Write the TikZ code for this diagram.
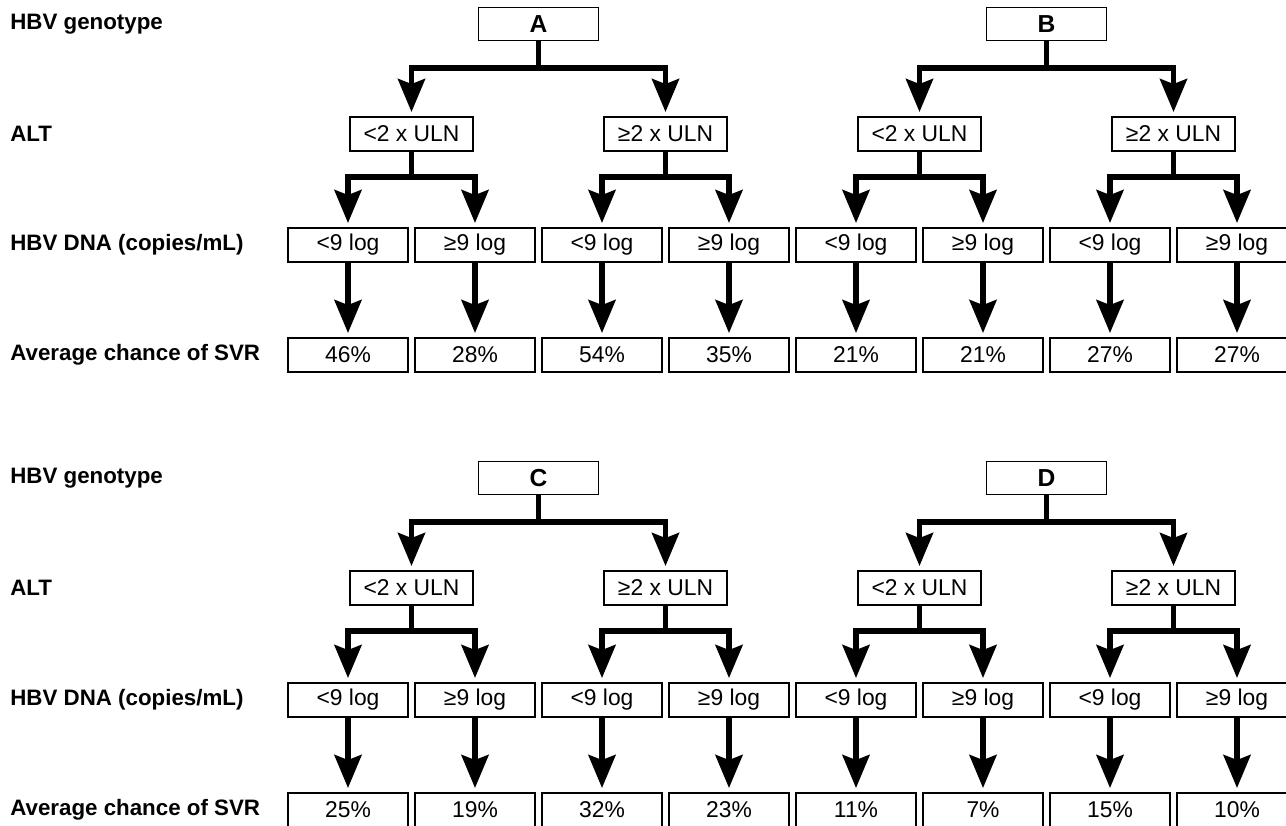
\documentclass[tikz,border=0pt]{standalone}
\usepackage{fontspec}
\setmainfont{Liberation Sans}
\usetikzlibrary{arrows.meta}

\begin{document}
\begin{tikzpicture}[
  font=\fontsize{13}{15}\selectfont,
  cell/.style={draw,line width=1.1pt,fill=white,minimum width=2.4cm,minimum height=0.68cm,inner sep=0pt},
  altcell/.style={cell,minimum width=2.46cm},
  gencell/.style={cell,minimum height=0.66cm,font=\fontsize{14}{16}\selectfont\bfseries},
  rowlabel/.style={anchor=west,inner sep=0pt,font=\fontsize{12.7}{15}\selectfont\bfseries},
  branch/.style={line width=3.1pt,-{Stealth[length=0.66cm,width=0.54cm,inset=0.1cm]},shorten >=0.08cm}
]
  \useasboundingbox (0,0) rectangle (25.72,16.52);
  \clip (0,0) rectangle (25.72,16.52);

  % row labels, upper half
  \node[rowlabel] (lgen1) at (0.2,16.04) {HBV genotype};
  \node[rowlabel] (lalt1) at (0.2,13.84) {ALT};
  \node[rowlabel] (ldna1) at (0.2,11.62) {HBV DNA (copies/mL)};
  \node[rowlabel] (lsvr1) at (0.2,9.42) {Average chance of SVR};
  % row labels, lower half
  \node[rowlabel] (lgen2) at (0.2,6.96) {HBV genotype};
  \node[rowlabel] (lalt2) at (0.2,4.76) {ALT};
  \node[rowlabel] (ldna2) at (0.2,2.52) {HBV DNA (copies/mL)};
  \node[rowlabel] (lsvr2) at (0.2,0.32) {Average chance of SVR};

  % genotype A
  \node[gencell] (gA) at (10.77,16.04) {A};
  \node[altcell] (aA1) at (8.23,13.84) {<2 x ULN};
  \node[altcell] (aA2) at (13.31,13.84) {≥2 x ULN};
  \node[cell] (dA1) at (6.96,11.62) {<9 log};
  \node[cell] (dA2) at (9.50,11.62) {≥9 log};
  \node[cell] (dA3) at (12.04,11.62) {<9 log};
  \node[cell] (dA4) at (14.58,11.62) {≥9 log};
  \node[cell] (sA1) at (6.96,9.42) {46\%};
  \node[cell] (sA2) at (9.50,9.42) {28\%};
  \node[cell] (sA3) at (12.04,9.42) {54\%};
  \node[cell] (sA4) at (14.58,9.42) {35\%};
  % genotype B
  \node[gencell] (gB) at (20.93,16.04) {B};
  \node[altcell] (aB1) at (18.39,13.84) {<2 x ULN};
  \node[altcell] (aB2) at (23.47,13.84) {≥2 x ULN};
  \node[cell] (dB1) at (17.12,11.62) {<9 log};
  \node[cell] (dB2) at (19.66,11.62) {≥9 log};
  \node[cell] (dB3) at (22.20,11.62) {<9 log};
  \node[cell] (dB4) at (24.74,11.62) {≥9 log};
  \node[cell] (sB1) at (17.12,9.42) {21\%};
  \node[cell] (sB2) at (19.66,9.42) {21\%};
  \node[cell] (sB3) at (22.20,9.42) {27\%};
  \node[cell] (sB4) at (24.74,9.42) {27\%};
  % genotype C
  \node[gencell] (gC) at (10.77,6.96) {C};
  \node[altcell] (aC1) at (8.23,4.76) {<2 x ULN};
  \node[altcell] (aC2) at (13.31,4.76) {≥2 x ULN};
  \node[cell] (dC1) at (6.96,2.52) {<9 log};
  \node[cell] (dC2) at (9.50,2.52) {≥9 log};
  \node[cell] (dC3) at (12.04,2.52) {<9 log};
  \node[cell] (dC4) at (14.58,2.52) {≥9 log};
  \node[cell] (sC1) at (6.96,0.32) {25\%};
  \node[cell] (sC2) at (9.50,0.32) {19\%};
  \node[cell] (sC3) at (12.04,0.32) {32\%};
  \node[cell] (sC4) at (14.58,0.32) {23\%};
  % genotype D
  \node[gencell] (gD) at (20.93,6.96) {D};
  \node[altcell] (aD1) at (18.39,4.76) {<2 x ULN};
  \node[altcell] (aD2) at (23.47,4.76) {≥2 x ULN};
  \node[cell] (dD1) at (17.12,2.52) {<9 log};
  \node[cell] (dD2) at (19.66,2.52) {≥9 log};
  \node[cell] (dD3) at (22.20,2.52) {<9 log};
  \node[cell] (dD4) at (24.74,2.52) {≥9 log};
  \node[cell] (sD1) at (17.12,0.32) {11\%};
  \node[cell] (sD2) at (19.66,0.32) {7\%};
  \node[cell] (sD3) at (22.20,0.32) {15\%};
  \node[cell] (sD4) at (24.74,0.32) {10\%};

  % genotype to ALT
  \draw[branch] (gA.south) -- ++(0,-0.53) -| (aA1.north);
  \draw[branch] (gA.south) -- ++(0,-0.53) -| (aA2.north);
  \draw[branch] (gB.south) -- ++(0,-0.53) -| (aB1.north);
  \draw[branch] (gB.south) -- ++(0,-0.53) -| (aB2.north);
  \draw[branch] (gC.south) -- ++(0,-0.53) -| (aC1.north);
  \draw[branch] (gC.south) -- ++(0,-0.53) -| (aC2.north);
  \draw[branch] (gD.south) -- ++(0,-0.53) -| (aD1.north);
  \draw[branch] (gD.south) -- ++(0,-0.53) -| (aD2.north);
  % ALT to HBV DNA
  \draw[branch] (aA1.south) -- ++(0,-0.5) -| (dA1.north);
  \draw[branch] (aA1.south) -- ++(0,-0.5) -| (dA2.north);
  \draw[branch] (aA2.south) -- ++(0,-0.5) -| (dA3.north);
  \draw[branch] (aA2.south) -- ++(0,-0.5) -| (dA4.north);
  \draw[branch] (aB1.south) -- ++(0,-0.5) -| (dB1.north);
  \draw[branch] (aB1.south) -- ++(0,-0.5) -| (dB2.north);
  \draw[branch] (aB2.south) -- ++(0,-0.5) -| (dB3.north);
  \draw[branch] (aB2.south) -- ++(0,-0.5) -| (dB4.north);
  \draw[branch] (aC1.south) -- ++(0,-0.5) -| (dC1.north);
  \draw[branch] (aC1.south) -- ++(0,-0.5) -| (dC2.north);
  \draw[branch] (aC2.south) -- ++(0,-0.5) -| (dC3.north);
  \draw[branch] (aC2.south) -- ++(0,-0.5) -| (dC4.north);
  \draw[branch] (aD1.south) -- ++(0,-0.5) -| (dD1.north);
  \draw[branch] (aD1.south) -- ++(0,-0.5) -| (dD2.north);
  \draw[branch] (aD2.south) -- ++(0,-0.5) -| (dD3.north);
  \draw[branch] (aD2.south) -- ++(0,-0.5) -| (dD4.north);
  % HBV DNA to SVR
  \draw[branch] (dA1) -- (sA1);
  \draw[branch] (dA2) -- (sA2);
  \draw[branch] (dA3) -- (sA3);
  \draw[branch] (dA4) -- (sA4);
  \draw[branch] (dB1) -- (sB1);
  \draw[branch] (dB2) -- (sB2);
  \draw[branch] (dB3) -- (sB3);
  \draw[branch] (dB4) -- (sB4);
  \draw[branch] (dC1) -- (sC1);
  \draw[branch] (dC2) -- (sC2);
  \draw[branch] (dC3) -- (sC3);
  \draw[branch] (dC4) -- (sC4);
  \draw[branch] (dD1) -- (sD1);
  \draw[branch] (dD2) -- (sD2);
  \draw[branch] (dD3) -- (sD3);
  \draw[branch] (dD4) -- (sD4);
\end{tikzpicture}
\end{document}
